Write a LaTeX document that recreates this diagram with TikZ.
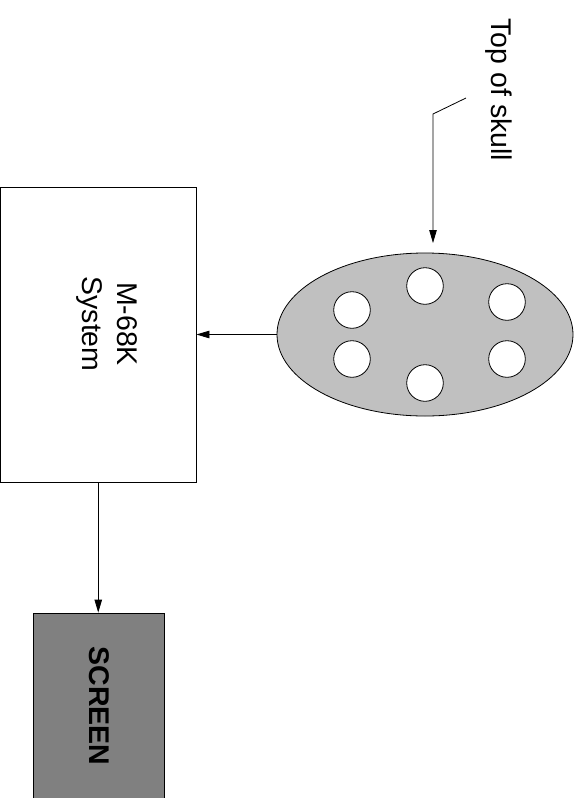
\documentclass[tikz,border=0pt]{standalone}
\usepackage{fontspec}
\setmainfont{Liberation Sans}
\usetikzlibrary{shapes.geometric,arrows.meta}
\definecolor{skullgray}{HTML}{C0C0C0}
\definecolor{screengray}{HTML}{808080}
\begin{document}
\begin{tikzpicture}[x=1pt,y=-1pt,
  line width=0.8pt,
  lbl/.style={rotate=-90, inner sep=0pt, align=center,
              font=\fontsize{28.5}{35}\selectfont},
  conn/.style={-{Triangle[length=13pt,width=7.5pt]}},
  box/.style={rectangle, draw, inner sep=0pt},
  hole/.style={circle, draw, fill=white, minimum size=36.6pt, inner sep=0pt}]
  \clip (0,0) rectangle (579,798);
  \useasboundingbox (0,0) rectangle (579,798);

  % processing unit
  \node[box, minimum width=195.5pt, minimum height=295pt] (sys) at (98.25,334.5) {};
  \node[lbl] (syslabel) at (106.5,324) {M-68K\\System};

  % display
  \node[box, fill=screengray, minimum width=131pt, minimum height=227pt] (screen) at (98.5,726.5) {};
  \node[lbl, font=\fontsize{28.5}{35}\selectfont\bfseries] (screenlabel) at (99,706) {SCREEN};

  % skull seen from above, with electrode holes
  \node[ellipse, draw, fill=skullgray, minimum width=296pt, minimum height=163pt, inner sep=0pt] (skull) at (425,334.5) {};
  \node[hole] (h1) at (352,310) {};
  \node[hole] (h2) at (352,359) {};
  \node[hole] (h3) at (425,286) {};
  \node[hole] (h4) at (425,383) {};
  \node[hole] (h5) at (507,302) {};
  \node[hole] (h6) at (507,359) {};

  % orientation note
  \node[lbl] (toplabel) at (499,90) {Top of skull};
  \coordinate (lead) at (466,98);
  \coordinate (bend) at (433,114);
  \coordinate (tip) at (433,243);
  \draw[conn] (lead) -- (bend) -- (tip);

  % signal flow
  \draw[conn] (skull.west) -- (sys.east);
  \draw[conn] (sys.south) -- (sys.south |- screen.north);
\end{tikzpicture}
\end{document}
